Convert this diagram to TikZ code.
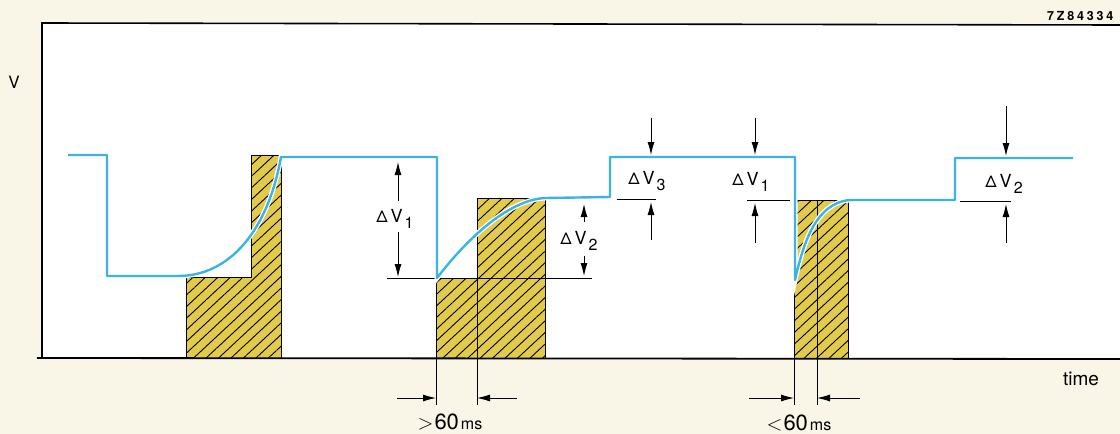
\documentclass[tikz,border=0pt]{standalone}
\usepackage{fontspec}
\setmainfont{TeX Gyre Heros}
\usetikzlibrary{positioning,arrows.meta,patterns.meta}

\definecolor{paper}{RGB}{249,245,231}
\definecolor{trace}{RGB}{58,180,230}
\definecolor{mustard}{RGB}{226,203,76}

\tikzset{
  block/.style={draw=black, line width=1pt, preaction={fill=mustard},
    pattern={Lines[angle=43,distance=8.5pt,line width=0.9pt]}},
  dimarrow/.style={-{Latex[length=13pt,width=7pt]}, line width=0.9pt},
  level/.style={line width=0.9pt},
  lbl/.style={font=\fontsize{18}{20}\selectfont, inner sep=0pt},
  gap/.style={anchor=base, inner sep=0pt},
}
\newcommand{\dV}[1]{{\fontsize{16}{16}\selectfont Δ}\kern3pt V\kern2pt\raisebox{-0.6ex}{\fontsize{16}{18}\selectfont #1}}

\begin{document}
\begin{tikzpicture}[x=1pt,y=-1pt]
  \useasboundingbox (0,0) rectangle (1120,434);

  % paper and frame
  \fill[paper] (0,0) rectangle (1120,434);
  \fill[white] (41,24) rectangle (1120,358);
  \draw[line width=1.6pt] (42,358) -- (42,23) -- (1120,25);

  % hatched blocks
  \draw[block] (186,358) -- (186,277) -- (251,277) -- (251,155) -- (281,155) -- (281,358) -- cycle;
  \draw[block] (436,278) rectangle (477,358);
  \draw[block] (477,198) rectangle (545,358);
  \draw[block] (794,200) rectangle (817,358);
  \draw[block] (817,200) rectangle (848,358);

  % time axis
  \draw[line width=1.8pt] (37,358) -- (1120,359);

  % reference levels
  \draw[level] (387,278) -- (592,278);
  \draw[level] (617,199) -- (656,199);
  \draw[level] (747,200) -- (790,200);
  \draw[level] (960,201) -- (1011,201);

  % voltage trace
  \draw[trace, line width=2.4pt, line join=round, preaction={draw=white, line width=5pt}]
    (68,155) -- (107,155) -- (107,276) -- (178,276)
    .. controls (230,276) and (268,230) .. (281,157) -- (437,157) -- (437,278)
    .. controls (470,235) and (510,200) .. (545,198) -- (610,197) -- (610,157)
    -- (795,157) -- (795,280)
    .. controls (803,245) and (815,203) .. (850,200) -- (955,200) -- (955,158) -- (1073,158);

  % labels
  \node[font=\fontsize{17}{20}\selectfont] (vlab) at (14,82) {V};
  \node[font=\fontsize{19}{22}\selectfont] (tlab) at (1081,379) {time};
  \node[font=\fontsize{12.5}{13}\selectfont\bfseries, anchor=west, inner sep=0pt] (code) at (1047,16)
    {7\kern2.8pt Z\kern2.8pt 8\kern2.8pt 4\kern2.8pt 3\kern2.8pt 3\kern2.8pt 4};

  \node[lbl] (dv1a) at (395,219) {\dV{1}};
  \node[lbl] (dv2a) at (579,241) {\dV{2}};
  \node[lbl] (dv3) at (647,181) {\dV{3}};
  \node[lbl] (dv1b) at (751,182) {\dV{1}};
  \node[lbl] (dv2b) at (1004,184) {\dV{2}};

  % arrow ends
  \coordinate (a1t) at (398,162);  \coordinate (a1b) at (398,277);
  \coordinate (a2t) at (584,204);  \coordinate (a2b) at (584,276);
  \coordinate (a3s) at (651,118);  \coordinate (a3t) at (651,155);
  \coordinate (a3u) at (651,240);  \coordinate (a3b) at (651,202);
  \coordinate (a4s) at (755,118);  \coordinate (a4t) at (755,155);
  \coordinate (a4u) at (755,243);  \coordinate (a4b) at (755,203);
  \coordinate (a5s) at (1006,106); \coordinate (a5t) at (1006,156);
  \coordinate (a5u) at (1006,243); \coordinate (a5b) at (1006,204);

  % delta V arrows
  \draw[dimarrow, shorten <=8pt] (a1t |- dv1a.north) -- (a1t);
  \draw[dimarrow, shorten <=3pt] (a1b |- dv1a.south) -- (a1b);
  \draw[dimarrow, shorten <=9pt] (a2t |- dv2a.north) -- (a2t);
  \draw[dimarrow, shorten <=5pt] (a2b |- dv2a.south) -- (a2b);
  \draw[dimarrow] (a3s) -- (a3t);
  \draw[dimarrow] (a3u) -- (a3b);
  \draw[dimarrow] (a4s) -- (a4t);
  \draw[dimarrow] (a4u) -- (a4b);
  \draw[dimarrow] (a5s) -- (a5t);
  \draw[dimarrow] (a5u) -- (a5b);

  % time intervals
  \coordinate (g1l) at (436,398); \coordinate (g1r) at (477,398);
  \coordinate (g2l) at (794,398); \coordinate (g2r) at (817,398);
  \draw[level] (436,358) -- (436,405);
  \draw[level] (477,358) -- (477,405);
  \draw[level] (794,358) -- (794,405);
  \draw[level] (817,358) -- (817,405);
  \coordinate (g1a) at (397,398); \coordinate (g1b) at (517,398);
  \coordinate (g2a) at (749,398); \coordinate (g2b) at (860,398);
  \draw[dimarrow] (g1a) -- (g1l);
  \draw[dimarrow] (g1b) -- (g1r);
  \draw[dimarrow] (g2a) -- (g2l);
  \draw[dimarrow] (g2b) -- (g2r);

  \node[gap] (gt) at (450,429) {{\fontsize{22}{24}\selectfont $>$\kern1pt 60}\kern2pt{\fontsize{16}{18}\selectfont ms}};
  \node[gap] (lt) at (799,430) {{\fontsize{22}{24}\selectfont $<$\kern1pt 60}\kern2pt{\fontsize{16}{18}\selectfont ms}};
\end{tikzpicture}
\end{document}
